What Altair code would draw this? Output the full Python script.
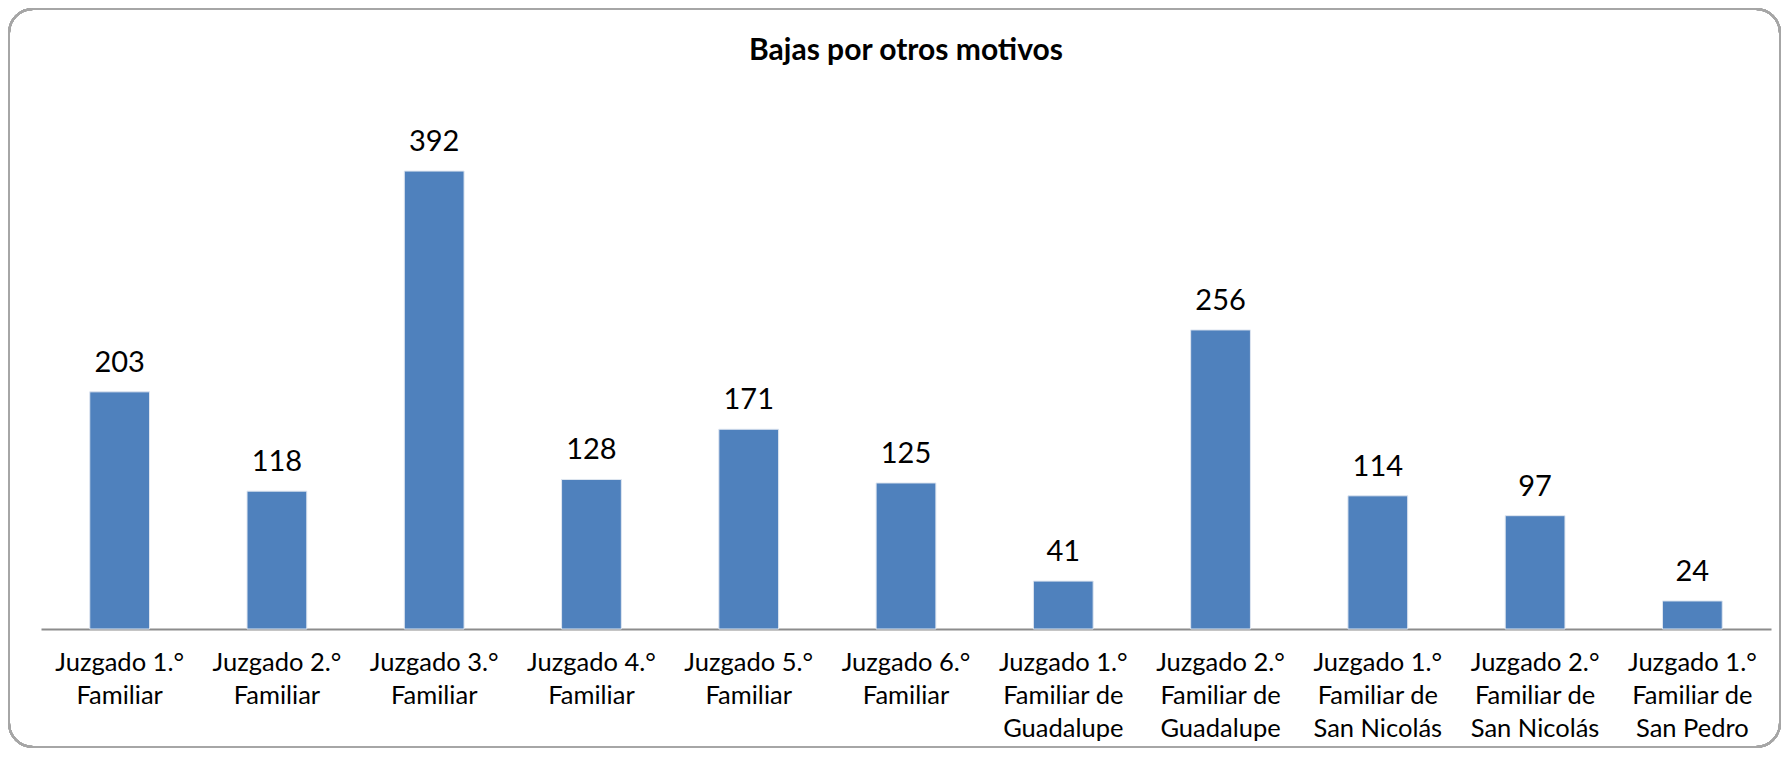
import altair as alt
import pandas as pd

categories = [
    "Juzgado 1.°|Familiar",
    "Juzgado 2.°|Familiar",
    "Juzgado 3.°|Familiar",
    "Juzgado 4.°|Familiar",
    "Juzgado 5.°|Familiar",
    "Juzgado 6.°|Familiar",
    "Juzgado 1.°|Familiar de|Guadalupe",
    "Juzgado 2.°|Familiar de|Guadalupe",
    "Juzgado 1.°|Familiar de|San Nicolás",
    "Juzgado 2.°|Familiar de|San Nicolás",
    "Juzgado 1.°|Familiar de|San Pedro",
]
values = [203, 118, 392, 128, 171, 125, 41, 256, 114, 97, 24]
title_text = ["Bajas por otros motivos"]

df = pd.DataFrame({"cat": categories, "val": values})
tdf = pd.DataFrame({"t": title_text})

FONT = "Lato"
W, H = 1730, 514

xenc = alt.X("cat:N", sort=categories,
             scale=alt.Scale(paddingInner=0.62, paddingOuter=0.31),
             axis=alt.Axis(title=None, labelAngle=0, ticks=False,
                           labelExpr="split(datum.label, '|')",
                           labelFont=FONT, labelFontSize=25.5, labelColor="#000000",
                           labelLineHeight=33, labelPadding=21,
                           domainColor="#8c8c8c", domainWidth=2, grid=False,
                           labelLimit=300))
yenc = alt.Y("val:Q", scale=alt.Scale(domain=[0, 440], nice=False), axis=None)

bars = alt.Chart(df).mark_bar(color="#4F81BD", stroke="#dfe6f0", strokeWidth=1).encode(x=xenc, y=yenc)
labels = alt.Chart(df).mark_text(font=FONT, fontSize=29, color="#000000",
                                 baseline="alphabetic", dy=-20).encode(
    x=alt.X("cat:N", sort=categories), y="val:Q", text="val:Q")

border = alt.Chart(df).mark_rect(fill=None, stroke="#a6a6a6", strokeWidth=2,
                                 cornerRadius=24).encode(
    x=alt.value(-32), x2=alt.value(1739), y=alt.value(-106), y2=alt.value(632))

title = alt.Chart(tdf).mark_text(font=FONT, fontSize=30, fontWeight="bold",
                                 color="#000000", baseline="middle", align="center").encode(
    x=alt.value(W / 2), y=alt.value(-64), text="t:N")

chart = alt.layer(border, bars, labels, title).properties(
    width=W, height=H,
    autosize=alt.AutoSizeParams(type="none"),
    padding={"left": 33, "top": 107, "right": 10, "bottom": 119},
).configure_view(stroke=None)

chart.save("out.html", embed_options={"renderer": "svg", "actions": False})
